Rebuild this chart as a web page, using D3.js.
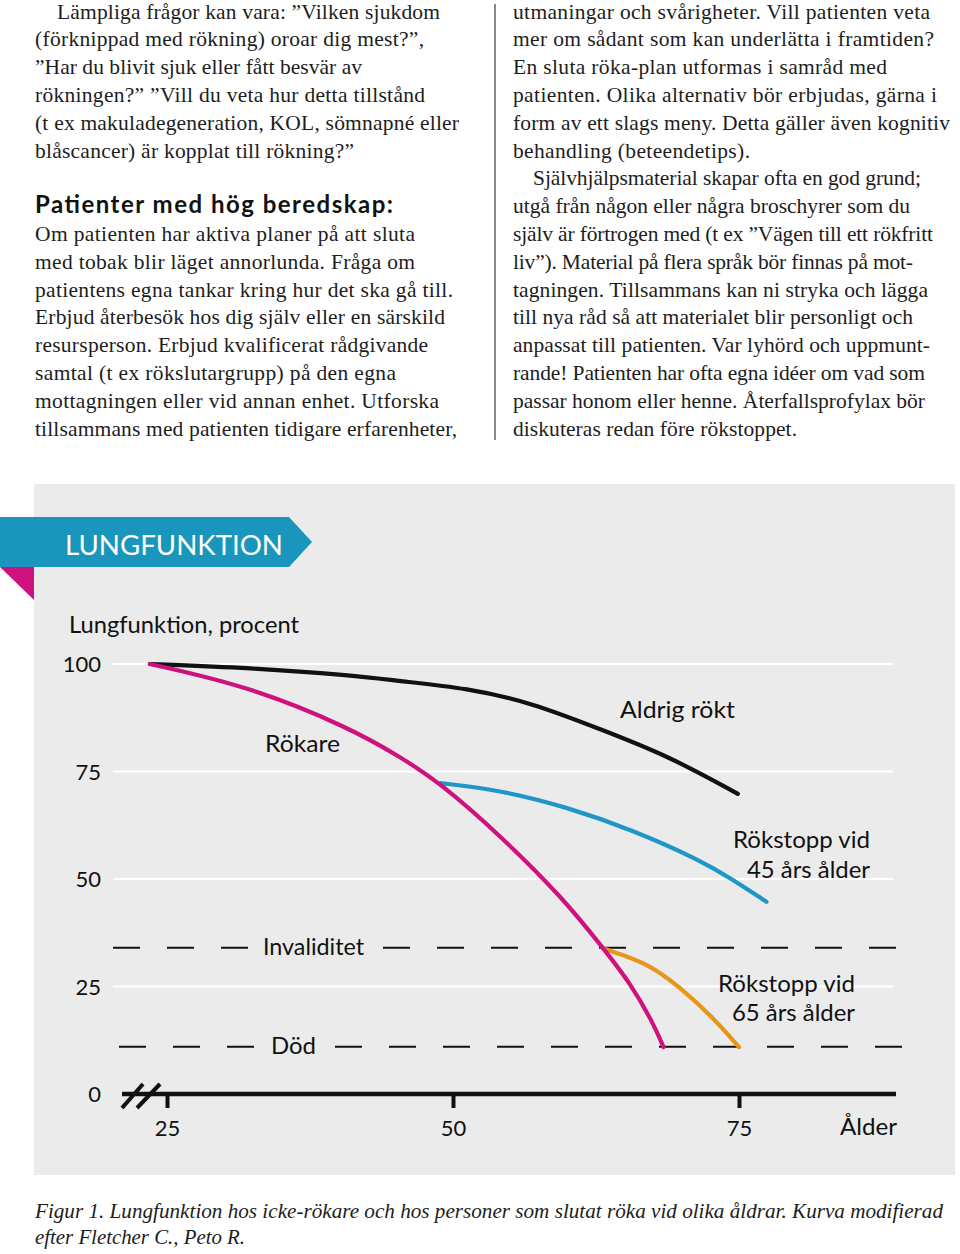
<!DOCTYPE html>
<html><head><meta charset="utf-8">
<script src="https://cdn.jsdelivr.net/npm/d3@7"></script>
<style>body{margin:0;background:#fff}svg{display:block}</style>
</head><body>
<svg id="c" width="960" height="1254"></svg>
<script>
// ---------- text content ----------
const leftLines = [
  "Lämpliga frågor kan vara: ”Vilken sjukdom",
  "(förknippad med rökning) oroar dig mest?”,",
  "”Har du blivit sjuk eller fått besvär av",
  "rökningen?” ”Vill du veta hur detta tillstånd",
  "(t ex makuladegeneration, KOL, sömnapné eller",
  "blåscancer) är kopplat till rökning?”"
];
const leftEnds = [440, 424, 362, 425, 459, 354];
const heading = "Patienter med hög beredskap:";
const leftLines2 = [
  "Om patienten har aktiva planer på att sluta",
  "med tobak blir läget annorlunda. Fråga om",
  "patientens egna tankar kring hur det ska gå till.",
  "Erbjud återbesök hos dig själv eller en särskild",
  "resursperson. Erbjud kvalificerat rådgivande",
  "samtal (t ex rökslutargrupp) på den egna",
  "mottagningen eller vid annan enhet. Utforska",
  "tillsammans med patienten tidigare erfarenheter,"
];
const leftEnds2 = [415, 415, 453, 445, 428, 396, 439, 457];
const rightLines = [
  "utmaningar och svårigheter. Vill patienten veta",
  "mer om sådant som kan underlätta i framtiden?",
  "En sluta röka-plan utformas i samråd med",
  "patienten. Olika alternativ bör erbjudas, gärna i",
  "form av ett slags meny. Detta gäller även kognitiv",
  "behandling (beteendetips).",
  "Självhjälpsmaterial skapar ofta en god grund;",
  "utgå från någon eller några broschyrer som du",
  "själv är förtrogen med (t ex ”Vägen till ett rökfritt",
  "liv”). Material på flera språk bör finnas på mot-",
  "tagningen. Tillsammans kan ni stryka och lägga",
  "till nya råd så att materialet blir personligt och",
  "anpassat till patienten. Var lyhörd och uppmunt-",
  "rande! Patienten har ofta egna idéer om vad som",
  "passar honom eller henne. Återfallsprofylax bör",
  "diskuteras redan före rökstoppet."
];
const rightEnds = [930, 934, 887, 937, 950, 750, 921, 910, 933, 913, 928, 913, 930, 925, 925, 797];
const captionLines = [
  "Figur 1. Lungfunktion hos icke-rökare och hos personer som slutat röka vid olika åldrar. Kurva modifierad",
  "efter Fletcher C.,  Peto R."
];
const captionEnds = [943, 245];

// ---------- chart data ----------
const xTicks = [25, 50, 75];
const yTicks = [0, 25, 50, 75, 100];
const gridTicks = [25, 50, 75, 100];
const neverAges   = [23.5, 32.3, 41.0, 45.4, 51.2, 57.0, 62.8, 68.7, 74.9];
const neverValues = [100, 99.1, 97.4, 96.0, 94.4, 90.9, 84.9, 78.8, 69.8];
const smokerAges   = [23.5, 32.3, 41.0, 45.4, 48.9, 54.1, 59.6, 63.1, 65.5, 67.5, 68.4];
const smokerValues = [100, 94.7, 85.1, 78.4, 72.3, 60.2, 45.6, 34.0, 25.8, 16.5, 10.9];
const quit45Ages   = [48.9, 54.1, 60.0, 65.7, 71.6, 74.5, 77.4];
const quit45Values = [72.3, 70.7, 66.7, 61.4, 54.4, 49.8, 44.7];
const quit65Ages   = [63.3, 67.0, 69.8, 72.7, 75.0];
const quit65Values = [33.7, 30.5, 24.9, 17.9, 10.9];
const disabilityLevel = 34;
const deathLevel = 11;

const C = {
  panel: "#ebebeb", teal: "#1a95bb", magenta: "#cf117d", blue: "#1e97c8",
  orange: "#e8951c", black: "#111111"
};

const svg = d3.select("#c");
const serif = "'Liberation Serif', 'Times New Roman', serif";
const sans = "Lato, 'Open Sans', sans-serif";

// ---------- top text ----------
const lh = 27.8, b0 = 18.5;
function txt(g, s, x, y, end, opts) {
  const t = g.append("text").attr("x", x).attr("y", y).text(s)
    .attr("font-family", opts.family).attr("font-size", opts.size)
    .attr("fill", opts.fill || "#1a1a1a");
  if (opts.weight) t.attr("font-weight", opts.weight);
  if (opts.style) t.attr("font-style", opts.style);
  if (end) t.attr("textLength", end - x).attr("lengthAdjust", opts.adjust || "spacing");
  return t;
}
const tg = svg.append("g");
const body = { family: serif, size: 21.5, fill: "#1d1d1d" };
leftLines.forEach((s, i) => txt(tg, s, i === 0 ? 57 : 35, b0 + i * lh, leftEnds[i], body));
txt(tg, heading, 35, b0 + 7 * lh, 393, { family: sans, size: 24, weight: 700, fill: "#111" });
leftLines2.forEach((s, i) => txt(tg, s, 35, b0 + (8 + i) * lh, leftEnds2[i], body));
rightLines.forEach((s, i) => txt(tg, s, i === 6 ? 533 : 513, b0 + i * lh, rightEnds[i], body));
tg.append("line").attr("x1", 495).attr("x2", 495).attr("y1", 4).attr("y2", 440)
  .attr("stroke", "#8a8a8a").attr("stroke-width", 2);

// ---------- panel ----------
svg.append("rect").attr("x", 34).attr("y", 484).attr("width", 921).attr("height", 691).attr("fill", C.panel);
svg.append("path").attr("d", "M0,517 L289,517 L312,542 L289,567 L0,567 Z").attr("fill", C.teal);
svg.append("path").attr("d", "M0,567 L34,567 L34,600 Z").attr("fill", C.magenta);
svg.append("text").attr("x", 65).attr("y", 555).text("LUNGFUNKTION")
  .attr("font-family", sans).attr("font-size", 27).attr("fill", "#fff")
  .attr("textLength", 218).attr("lengthAdjust", "spacingAndGlyphs");
svg.append("text").attr("x", 69).attr("y", 633).text("Lungfunktion, procent")
  .attr("font-family", sans).attr("font-size", 23).attr("fill", "#111")
  .attr("textLength", 230).attr("lengthAdjust", "spacingAndGlyphs");

// ---------- scales ----------
const x = d3.scaleLinear().domain([25, 75]).range([167, 739]);
const y = d3.scaleLinear().domain([0, 100]).range([1094, 664]);

const g = svg.append("g");
// gridlines
g.selectAll(".grid").data(gridTicks).join("line")
  .attr("x1", 113).attr("x2", 893)
  .attr("y1", d => y(d)).attr("y2", d => y(d))
  .attr("stroke", "#fff").attr("stroke-width", 2);

// y labels
g.selectAll(".ylab").data(yTicks).join("text")
  .attr("x", 101).attr("y", d => y(d) + 8).attr("text-anchor", "end")
  .attr("font-family", sans).attr("font-size", 22).attr("fill", "#111")
  .text(d => d);

// dashed threshold lines with labels
function dashed(level, x1, x2, label, lx, lw) {
  const yy = y(level);
  g.append("line").attr("x1", x1).attr("x2", x2).attr("y1", yy).attr("y2", yy)
    .attr("stroke", "#111").attr("stroke-width", 2).attr("stroke-dasharray", "27 27");
  g.append("rect").attr("x", lx - 13).attr("y", yy - 10).attr("width", lw + 26).attr("height", 20).attr("fill", C.panel);
  g.append("text").attr("x", lx).attr("y", yy + 7).text(label)
    .attr("font-family", sans).attr("font-size", 23).attr("fill", "#111")
    .attr("textLength", lw).attr("lengthAdjust", "spacingAndGlyphs");
}
dashed(disabilityLevel, 113, 896, "Invaliditet", 263, 101);
dashed(deathLevel, 119, 903, "Död", 271, 45);

// x axis
const axis = d3.axisBottom(x).tickValues(xTicks).tickSize(14).tickPadding(12);
const ag = g.append("g").attr("transform", `translate(0,${y(0)})`).call(axis);
ag.select(".domain").remove();
ag.selectAll(".tick line").attr("stroke", "#111").attr("stroke-width", 4);
ag.selectAll(".tick text").attr("font-family", sans).attr("font-size", 22).attr("fill", "#111");
g.append("line").attr("x1", 122).attr("x2", 896).attr("y1", y(0)).attr("y2", y(0))
  .attr("stroke", "#111").attr("stroke-width", 4.5);
[[122, 143], [137, 160]].forEach(([a, b]) => {
  g.append("line").attr("x1", a).attr("y1", y(0) + 14).attr("x2", b).attr("y2", y(0) - 10)
    .attr("stroke", "#111").attr("stroke-width", 4);
});
g.append("text").attr("x", 840).attr("y", 1135).text("Ålder")
  .attr("font-family", sans).attr("font-size", 23).attr("fill", "#111")
  .attr("textLength", 57).attr("lengthAdjust", "spacingAndGlyphs");

// curves
const line = d3.line().x(d => x(d[0])).y(d => y(d[1])).curve(d3.curveBasis);
const series = [
  { ages: neverAges, vals: neverValues, color: C.black },
  { ages: quit45Ages, vals: quit45Values, color: C.blue },
  { ages: quit65Ages, vals: quit65Values, color: C.orange },
  { ages: smokerAges, vals: smokerValues, color: C.magenta }
];
series.forEach(s => {
  g.append("path").datum(d3.zip(s.ages, s.vals)).attr("d", line)
    .attr("fill", "none").attr("stroke", s.color).attr("stroke-width", 4.2)
    .attr("stroke-linecap", "round");
});

// curve labels
function lab(s, xx, yy, w, anchor) {
  g.append("text").attr("x", xx).attr("y", yy).text(s)
    .attr("font-family", sans).attr("font-size", 23).attr("fill", "#111")
    .attr("text-anchor", anchor || "start")
    .attr("textLength", w).attr("lengthAdjust", "spacingAndGlyphs");
}
lab("Aldrig rökt", 620, 718, 115);
lab("Rökare", 265, 752, 75);
lab("Rökstopp vid", 733, 848, 137);
lab("45 års ålder", 747, 878, 123);
lab("Rökstopp vid", 718, 992, 137);
lab("65 års ålder", 732, 1021, 123);

// caption
const cg = svg.append("g");
captionLines.forEach((s, i) => txt(cg, s, 35, 1218 + i * 26, captionEnds[i],
  { family: serif, size: 20.5, style: "italic", fill: "#1d1d1d", adjust: "spacingAndGlyphs" }));
</script>
</body></html>
